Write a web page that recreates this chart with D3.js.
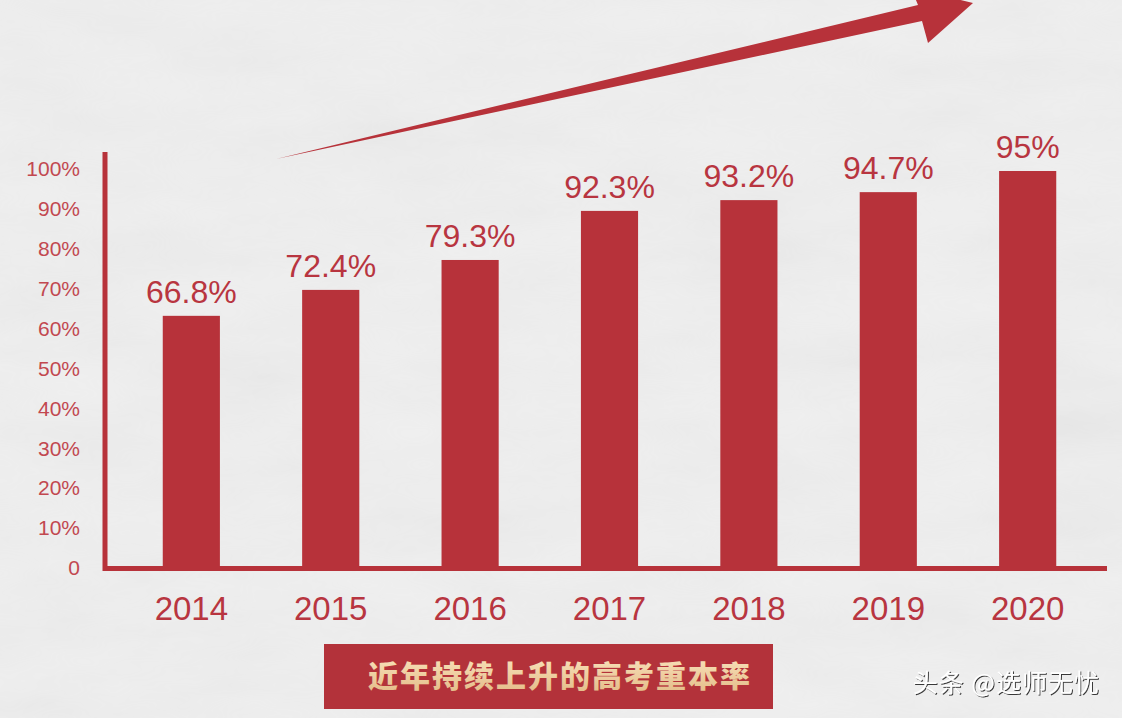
<!DOCTYPE html>
<html>
<head>
<meta charset="utf-8">
<script src="https://cdnjs.cloudflare.com/ajax/libs/d3/7.8.5/d3.min.js"></script>
<style>
  body { margin: 0; background: #eeeeee; overflow: hidden; }
</style>
</head>
<body>
<div id="chart"></div>
<script>
// values
var years = ["2014", "2015", "2016", "2017", "2018", "2019", "2020"];
// printed labels above each bar
var rateLabels = ["66.8%", "72.4%", "79.3%", "92.3%", "93.2%", "94.7%", "95%"];
// bar heights as drawn against the axis (the original doesn't draw them to the printed numbers)
var barHeights = [63.2, 69.7, 77.2, 89.5, 92.2, 94.2, 99.5];
var yTicks = [0, 10, 20, 30, 40, 50, 60, 70, 80, 90, 100];
var titleText = "近年持续上升的高考重本率";
var markText = "头条 @选师无忧";

var width = 1122, height = 718;
var red = "#b7323a";

var svg = d3.select("#chart").append("svg")
  .attr("width", width)
  .attr("height", height);

// paper texture
var defs = svg.append("defs");
var paper = defs.append("filter").attr("id", "paper")
  .attr("x", 0).attr("y", 0).attr("width", "100%").attr("height", "100%");
paper.append("feTurbulence")
  .attr("type", "fractalNoise")
  .attr("baseFrequency", "0.006 0.018")
  .attr("numOctaves", 4)
  .attr("seed", 7);
paper.append("feColorMatrix").attr("type", "saturate").attr("values", 0);

var shadow = defs.append("filter").attr("id", "shadow");
shadow.append("feDropShadow")
  .attr("dx", 1).attr("dy", 1).attr("stdDeviation", 0.6)
  .attr("flood-color", "#222").attr("flood-opacity", 0.9);

var gold = defs.append("linearGradient").attr("id", "gold")
  .attr("x1", 0).attr("y1", 0).attr("x2", 0).attr("y2", 1);
gold.append("stop").attr("offset", "0%").attr("stop-color", "#fbe6c0");
gold.append("stop").attr("offset", "100%").attr("stop-color", "#e2b985");

svg.append("rect").attr("width", width).attr("height", height).attr("fill", "#efefef");
svg.append("rect").attr("width", width).attr("height", height)
  .attr("filter", "url(#paper)").attr("opacity", 0.09);

// scales
var x = d3.scaleBand()
  .domain(years)
  .range([107, 1112])
  .paddingInner(0.59)
  .paddingOuter(0.4);

var y = d3.scaleLinear()
  .domain([0, 100])
  .range([568, 169]);

//////////////////////////////////////////////////////
//////////////////// the arrow ///////////////////////
//////////////////////////////////////////////////////
var p = d3.path();
p.moveTo(276, 159);
p.lineTo(918, 5);
p.lineTo(911, -12);
p.lineTo(973, 3);
p.lineTo(928, 43);
p.lineTo(922, 21);
p.closePath();
svg.append("path").attr("d", p.toString()).attr("fill", red);

//////////////////////////////////////////////////////
////////////////////// bars //////////////////////////
//////////////////////////////////////////////////////
svg.append("g")
  .selectAll("rect")
  .data(years)
  .enter().append("rect")
  .attr("x", function(d) { return x(d); })
  .attr("y", function(d, i) { return y(barHeights[i]); })
  .attr("width", x.bandwidth())
  .attr("height", function(d, i) { return y(0) - y(barHeights[i]); })
  .attr("fill", red);

// labels above bars
svg.append("g")
  .selectAll("text")
  .data(years)
  .enter().append("text")
  .attr("x", function(d) { return x(d) + x.bandwidth() / 2; })
  .attr("y", function(d, i) { return y(barHeights[i]) - 13; })
  .attr("text-anchor", "middle")
  .style("font-family", "'Liberation Sans', Arial, sans-serif")
  .style("font-size", "32px")
  .attr("fill", "#b83540")
  .text(function(d, i) { return rateLabels[i]; });

// y axis
var yAxis = d3.axisLeft(y)
  .tickValues(yTicks)
  .tickSize(0)
  .tickPadding(0)
  .tickFormat(function(d) { return d === 0 ? "0" : d + "%"; });

var gy = svg.append("g")
  .attr("transform", "translate(80,0)")
  .call(yAxis);
gy.select(".domain").remove();
gy.selectAll("text")
  .style("font-family", "'Liberation Sans', Arial, sans-serif")
  .style("font-size", "21px")
  .attr("fill", "#c24850");

// x axis (labels only, line drawn below)
var xAxis = d3.axisBottom(x).tickSize(0).tickPadding(0);
var gx = svg.append("g")
  .attr("transform", "translate(0,597)")
  .call(xAxis);
gx.select(".domain").remove();
gx.selectAll("text")
  .attr("dy", "0.71em")
  .style("font-family", "'Liberation Sans', Arial, sans-serif")
  .style("font-size", "33px")
  .attr("fill", "#b83540");

// axis lines
svg.append("line")
  .attr("x1", 105).attr("x2", 105)
  .attr("y1", 152).attr("y2", 571)
  .attr("stroke", red).attr("stroke-width", 5);
svg.append("line")
  .attr("x1", 103).attr("x2", 1107)
  .attr("y1", y(0) + 0.5).attr("y2", y(0) + 0.5)
  .attr("stroke", red).attr("stroke-width", 5);

// title box
svg.append("rect")
  .attr("x", 324).attr("y", 644)
  .attr("width", 449).attr("height", 65)
  .attr("fill", "#b3323a");
svg.append("text")
  .attr("x", 368).attr("y", 687)
  .style("font-family", "'Noto Sans CJK SC', sans-serif")
  .style("font-size", "30px")
  .style("font-weight", 900)
  .style("letter-spacing", "2px")
  .attr("fill", "url(#gold)")
  .text(titleText);

// watermark
svg.append("text")
  .attr("x", 1100).attr("y", 692)
  .attr("text-anchor", "end")
  .style("font-family", "'Noto Sans CJK SC', sans-serif")
  .style("font-size", "25px")
  .style("letter-spacing", "1px")
  .attr("fill", "#fff")
  .attr("filter", "url(#shadow)")
  .text(markText);
</script>
</body>
</html>
